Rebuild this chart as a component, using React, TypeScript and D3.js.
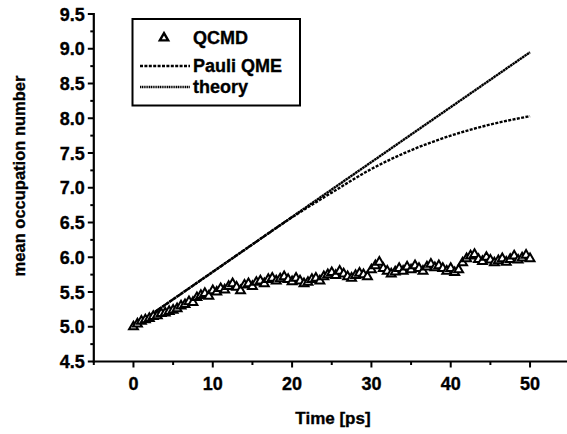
import React from "react";
import * as d3 from "d3";

// ---- data ----
const qcmdTimes: number[] = d3.range(0, 50.001, 0.5).map((t) => +t.toFixed(1));
const qcmdValues: number[] = [
  5.0, 5.04, 5.08, 5.1, 5.12, 5.15, 5.16, 5.19, 5.2, 5.22,
  5.24, 5.26, 5.3, 5.32, 5.36, 5.35, 5.42, 5.45, 5.48, 5.44,
  5.52, 5.5, 5.55, 5.53, 5.58, 5.62, 5.57, 5.52, 5.6, 5.62,
  5.58, 5.64, 5.66, 5.62, 5.68, 5.7, 5.66, 5.69, 5.72, 5.68,
  5.65, 5.7, 5.66, 5.62, 5.64, 5.68, 5.7, 5.66, 5.72, 5.75,
  5.78, 5.74, 5.8, 5.76, 5.72, 5.7, 5.74, 5.77, 5.75, 5.72,
  5.82, 5.88, 5.93, 5.84, 5.8, 5.76, 5.79, 5.84, 5.8, 5.86,
  5.82, 5.88, 5.84, 5.8, 5.86, 5.9, 5.85, 5.88, 5.84, 5.8,
  5.84, 5.78, 5.82, 5.92, 5.98, 6.02, 6.04, 5.97, 5.94, 6.0,
  5.96, 5.92, 5.95, 5.98, 5.93, 5.97, 6.02, 5.96, 5.99, 6.03,
  5.98,
];
const pauliTimes: number[] = [0, 5, 10, 15, 20, 25, 30, 35, 40, 45, 50];
const pauliValues: number[] = [5.0, 5.395, 5.79, 6.185, 6.575, 6.93, 7.27, 7.54, 7.75, 7.91, 8.03];
const theoryTimes: number[] = [0, 50];
const theoryValues: number[] = [5.0, 8.95];

const xMajorTicks: number[] = [0, 10, 20, 30, 40, 50];
const xMinorTicks: number[] = [-5, 5, 15, 25, 35, 45];
const yMajorTicks: number[] = [4.5, 5.0, 5.5, 6.0, 6.5, 7.0, 7.5, 8.0, 8.5, 9.0, 9.5];
const yMinorTicks: number[] = [4.75, 5.25, 5.75, 6.25, 6.75, 7.25, 7.75, 8.25, 8.75, 9.25];

const legendLabels: string[] = ["QCMD", "Pauli QME", "theory"];

export default function App() {
  const W = 567;
  const H = 434;
  const x = d3.scaleLinear().domain([-5, 55]).range([93.8, 569.7]);
  const y = d3.scaleLinear().domain([4.5, 9.5]).range([361.5, 14]);
  const font = "'Liberation Sans', Arial, Helvetica, sans-serif";

  const line = d3
    .line<[number, number]>()
    .x((d) => x(d[0]))
    .y((d) => y(d[1]));
  const curve = d3
    .line<[number, number]>()
    .x((d) => x(d[0]))
    .y((d) => y(d[1]))
    .curve(d3.curveMonotoneX);

  const pauliPts: [number, number][] = pauliTimes.map((t, i) => [t, pauliValues[i]]);
  const theoryPts: [number, number][] = theoryTimes.map((t, i) => [t, theoryValues[i]]);
  const tri = d3.symbol().type(d3.symbolTriangle).size(34)();
  const triLeg = d3.symbol().type(d3.symbolTriangle).size(30)();

  const x0 = x(-5);
  const y0 = y(4.5);
  const txtStroke = { stroke: "#000", strokeWidth: 0.35 };

  return (
    <svg
      width={W}
      height={H}
      style={{ position: "absolute", left: 0, top: 0, background: "#fff" }}
      fontFamily={font}
    >
      <rect width={W} height={H} fill="#fff" />
      {/* theory line */}
      <path d={line(theoryPts) || ""} fill="none" stroke="#000" strokeWidth={2.4} strokeDasharray="2.5,0.4" />
      {/* Pauli QME */}
      <path d={curve(pauliPts) || ""} fill="none" stroke="#000" strokeWidth={2.4} strokeDasharray="3,1.4" />
      {/* QCMD markers */}
      {qcmdValues.map((v, i) => (
        <path
          key={i}
          d={tri || ""}
          transform={`translate(${x(qcmdTimes[i])},${y(v)})`}
          fill="#fff"
          stroke="#000"
          strokeWidth={2}
        />
      ))}

      {/* axes */}
      <line x1={x0} x2={x0} y1={y(9.5) - 1} y2={y0 + 1} stroke="#000" strokeWidth={2.2} />
      <line x1={x0 - 1} x2={W} y1={y0} y2={y0} stroke="#000" strokeWidth={2.2} />
      {yMajorTicks.map((t) => (
        <g key={"ym" + t}>
          <line x1={x0 - 6} x2={x0} y1={y(t)} y2={y(t)} stroke="#000" strokeWidth={2} />
          <text x={x0 - 9} y={y(t) + 6.5} textAnchor="end" fontSize={18} fontWeight="bold" {...txtStroke}>
            {d3.format(".1f")(t)}
          </text>
        </g>
      ))}
      {yMinorTicks.map((t) => (
        <line key={"yn" + t} x1={x0 - 3.5} x2={x0} y1={y(t)} y2={y(t)} stroke="#000" strokeWidth={2} />
      ))}
      {xMajorTicks.map((t) => (
        <g key={"xm" + t}>
          <line x1={x(t)} x2={x(t)} y1={y0} y2={y0 + 6} stroke="#000" strokeWidth={2} />
          <text x={x(t)} y={390} textAnchor="middle" fontSize={18} fontWeight="bold" {...txtStroke}>
            {t}
          </text>
        </g>
      ))}
      {xMinorTicks.map((t) => (
        <line key={"xn" + t} x1={x(t)} x2={x(t)} y1={y0} y2={y0 + 3.5} stroke="#000" strokeWidth={2} />
      ))}

      {/* axis titles */}
      <text x={333} y={424} textAnchor="middle" fontSize={17} fontWeight="bold" {...txtStroke}>
        Time [ps]
      </text>
      <text
        transform="translate(25,176) rotate(-90)"
        textAnchor="middle"
        fontSize={16.5}
        fontWeight="bold"
        {...txtStroke}
      >
        mean occupation number
      </text>

      {/* legend */}
      <rect x={132.5} y={19} width={167.5} height={86.5} fill="#fff" stroke="#000" strokeWidth={2} />
      <path d={triLeg || ""} transform="translate(164,38)" fill="#fff" stroke="#000" strokeWidth={2.4} />
      <line x1={140} x2={190} y1={66} y2={66} stroke="#000" strokeWidth={2.4} strokeDasharray="3,1.4" />
      <line x1={140} x2={190} y1={87} y2={87} stroke="#000" strokeWidth={2.4} strokeDasharray="1.2,0.6" />
      {legendLabels.map((s, i) => (
        <text key={s} x={193} y={[44, 72, 93][i]} fontSize={18} fontWeight="bold" {...txtStroke}>
          {s}
        </text>
      ))}
    </svg>
  );
}
